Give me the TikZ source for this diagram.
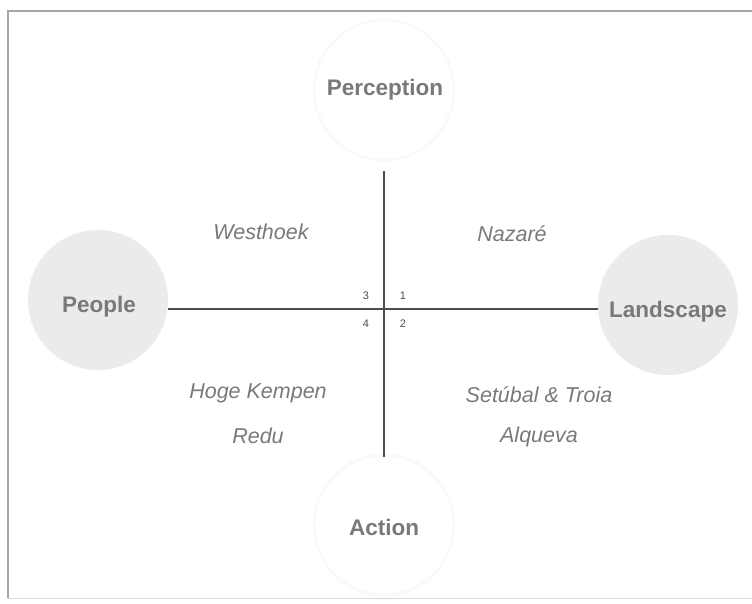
\documentclass[tikz,border=0pt]{standalone}
\usepackage{fontspec}
\setmainfont{Liberation Sans}
\usetikzlibrary{positioning}

\begin{document}
\begin{tikzpicture}[x=1pt,y=-1pt]
\useasboundingbox (0,0) rectangle (752,604);
\tikzstyle{frm}=[draw=gray!70, line width=1.2pt]
\tikzstyle{pole}=[circle, minimum size=140pt, inner sep=0pt]
\tikzstyle{poletxt}=[inner sep=0pt, font=\fontsize{22.5}{26}\selectfont\bfseries, text=gray!95!black]
\tikzstyle{site}=[font=\fontsize{21.5}{25}\selectfont\itshape, text=gray!95!black]
\tikzstyle{quad}=[font=\fontsize{11}{13}\selectfont, text=gray!60!black]
\tikzstyle{axis}=[draw=black!70, line width=1.1pt]
\draw[frm] (752,11) -- (8,11) -- (8,598);
\draw[draw=gray!30] (8,598) -- (752,598);
\node[pole, fill=gray!16] (people) at (98,300) {};
\node[pole, fill=gray!16] (land) at (668,305) {};
\node[pole, draw=gray!5, line width=3pt, fill=white] (perc) at (384,90) {};
\node[pole, draw=gray!5, line width=3pt, fill=white] (act) at (384,525) {};
\node[poletxt] (tpeople) at (99,307) {People};
\node[poletxt] (tland) at (668,312) {Landscape};
\node[poletxt] (tperc) at (385,90) {Perception};
\node[poletxt] (tact) at (384,527) {Action};
\coordinate (top) at ([yshift=-10pt]perc.south);
\coordinate (bot) at ([yshift=-3pt]act.north);
\draw[axis] (people.east |- 0,309) -- (land.west |- 0,309);
\draw[axis] (top) -- (bot);
\node[quad] (q3) at (366,296) {3};
\node[quad] (q1) at (403,296) {1};
\node[quad] (q4) at (366,324) {4};
\node[quad] (q2) at (403,324) {2};
\node[site] (west) at (261,232) {Westhoek};
\node[site] (naz) at (512,234) {Nazaré};
\node[site] (hoge) at (258,393) {Hoge Kempen};
\node[site] (redu) at (258,436) {Redu};
\node[site] (setu) at (539,395) {Setúbal \& Troia};
\node[site] (alq) at (539,437) {Alqueva};
\end{tikzpicture}
\end{document}
